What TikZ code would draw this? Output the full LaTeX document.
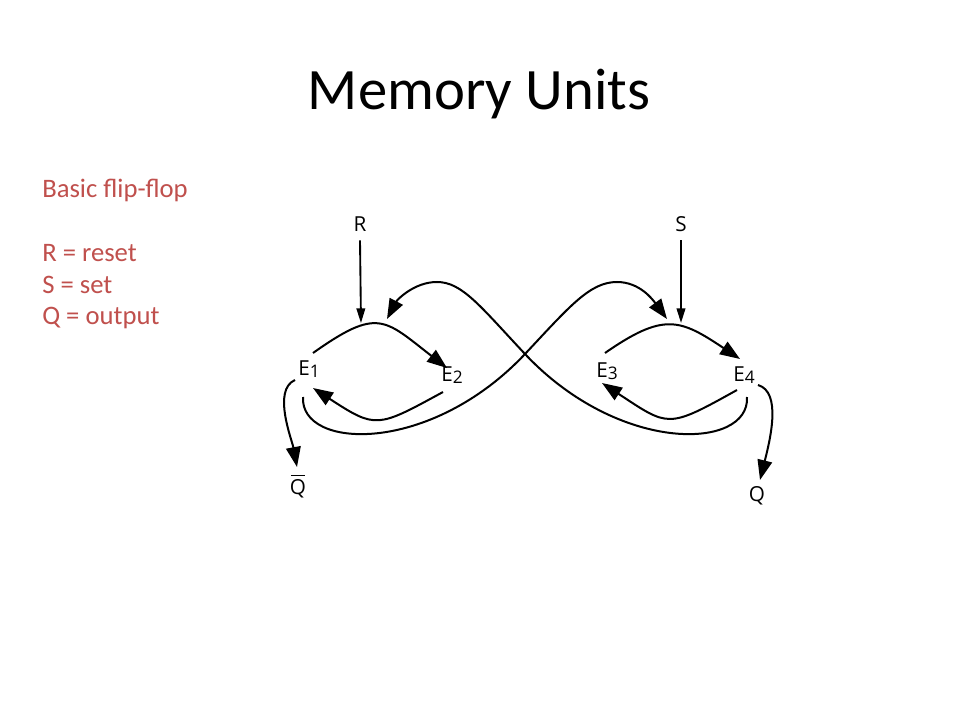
\documentclass[tikz,border=0pt]{standalone}
\usepackage{fontspec}
\setmainfont{Carlito}
\newfontfamily\labfont{Open Sans}
\usetikzlibrary{arrows.meta}
\definecolor{accred}{HTML}{C0504D}
\tikzset{
  conn/.style={line width=1.5pt, -{Triangle[length=15pt,width=11pt]}},
  inarr/.style={line width=1.4pt, -{Triangle[length=11pt,width=6.5pt]}},
  lab/.style={font=\labfont\fontsize{15.5}{15.5}\selectfont, inner sep=0pt, anchor=base},
  note/.style={font=\fontsize{20}{20}\selectfont, text=accred, anchor=base west, inner sep=0pt},
}
\newcommand{\subnum}[1]{\raisebox{-0.12em}{\fontsize{13}{13}\selectfont #1}}
\newcommand{\barQ}{\setbox0\hbox{Q}\rlap{\hspace{0.7pt}\raisebox{\dimexpr\ht0+2pt\relax}{\rule{\dimexpr\wd0-1.4pt\relax}{1.2pt}}}Q}
\begin{document}
\begin{tikzpicture}[x=0.75pt,y=-0.75pt]
\useasboundingbox (0,0) rectangle (960,720);
\fill[white] (0,0) rectangle (960,720);

% title and notes
\node[font=\fontsize{44}{44}\selectfont, anchor=base, inner sep=0pt] (title) at (479,110) {Memory Units};
\node[note] (n1) at (42,198) {Basic flip-flop};
\node[note] (n2) at (42,262) {R = reset};
\node[note] (n3) at (42,294) {S = set};
\node[note] (n4) at (42,325) {Q = output};

% labels
\node[lab] (R) at (360,232) {R};
\node[lab] (S) at (681,232) {S};
\node[lab, anchor=base west] (E1) at (298,375) {E\subnum{1}};
\node[lab, anchor=base west] (E2) at (441,381) {E\subnum{2}};
\node[lab, anchor=base west] (E3) at (596,377) {E\subnum{3}};
\node[lab, anchor=base west] (E4) at (733,381) {E\subnum{4}};
\node[lab] (Qb) at (298,494) {\barQ};
\node[lab] (Q) at (757,501) {Q};

% connector ends
\coordinate (rT) at (361,323);
\coordinate (sT) at (681,323);
\coordinate (a1s) at (313,353);
\coordinate (a1e) at (447,368);
\coordinate (b1s) at (443,392);
\coordinate (b1e) at (313,388);
\coordinate (a2s) at (605,353);
\coordinate (a2e) at (740,359);
\coordinate (b2s) at (737,390);
\coordinate (b2e) at (602,383);
\coordinate (qbs) at (295,380);
\coordinate (qbe) at (297,467);
\coordinate (qs) at (758,385);
\coordinate (qe) at (760,480);
\coordinate (las) at (303,397);
\coordinate (lae) at (667,319);
\coordinate (lbs) at (747,397);
\coordinate (lbe) at (387,319);
\coordinate (X) at (525,354);

% input arrows
\draw[inarr] ([yshift=-6pt]R.south) -- (rT);
\draw[inarr] ([yshift=-6pt]S.south) -- (sT);

% inner loops
\draw[conn] (a1s) .. controls (378,307) and (384,319) .. (a1e);
\draw[conn] (b1s) .. controls (377,428) and (376,429) .. (b1e);
\draw[conn] (a2s) .. controls (664,312) and (680,319) .. (a2e);
\draw[conn] (b2s) .. controls (667,429) and (669,427) .. (b2e);

% outputs
\draw[conn] (qbs) .. controls (272,390) and (292,440) .. (qbe);
\draw[conn] (qs) .. controls (782,392) and (770,440) .. (qe);

% crossing feedback curves
\draw[conn] (las) .. controls (300,450) and (430,455) .. (X)
  .. controls (570,306) and (590,282) .. (617,282)
  .. controls (640,282) and (653,300) .. (lae);
\draw[conn] (lbs) .. controls (750,450) and (620,455) .. (X)
  .. controls (480,306) and (462,282) .. (437,282)
  .. controls (414,282) and (397,300) .. (lbe);
\end{tikzpicture}
\end{document}
